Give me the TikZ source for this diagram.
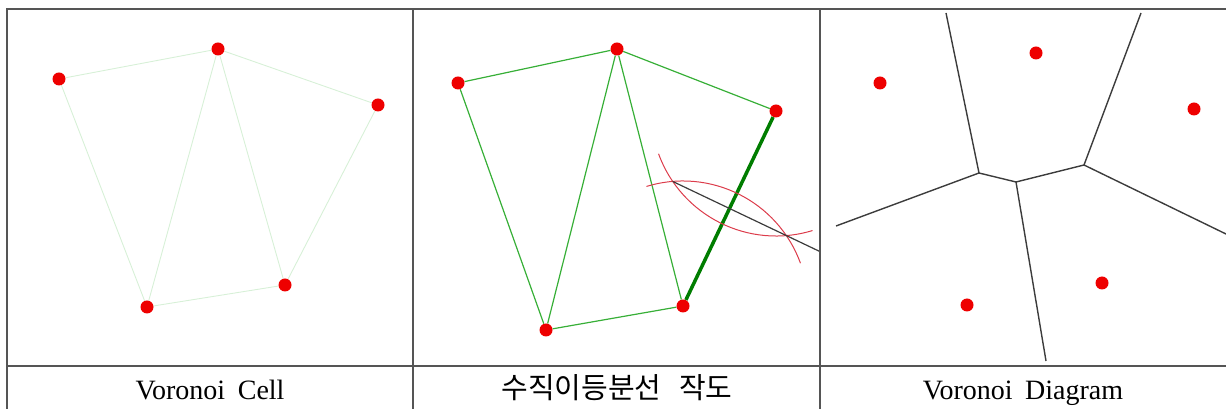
\documentclass[tikz,border=0pt]{standalone}
\usepackage{fontspec}
\setmainfont{Liberation Serif}
\newfontfamily\kofont{Noto Sans CJK KR}
\usepackage{tikz}
\usetikzlibrary{calc,backgrounds}
\definecolor{framegrey}{RGB}{85,85,85}
\definecolor{dotred}{RGB}{238,0,0}
\definecolor{palegreen}{RGB}{215,240,215}
\definecolor{edgegreen}{RGB}{55,175,55}
\definecolor{deepgreen}{RGB}{0,125,0}
\definecolor{arcred}{RGB}{220,60,75}
\definecolor{cellgrey}{RGB}{60,60,60}
\tikzset{
  frame/.style={line width=1.2pt, draw=framegrey},
  site/.style={circle, fill=dotred, inner sep=0pt, minimum size=13pt},
  faint/.style={line width=0.9pt, draw=palegreen},
  tri/.style={line width=1.2pt, draw=edgegreen},
  chord/.style={line width=3.5pt, draw=deepgreen},
  compass/.style={line width=1pt, draw=arcred},
  bisect/.style={line width=1.2pt, draw=cellgrey},
  cell/.style={line width=1.4pt, draw=cellgrey},
  caption/.style={anchor=base, inner sep=0pt, font=\fontsize{28}{30}\selectfont},
}

\begin{document}
\begin{tikzpicture}[x=1pt,y=1pt]
  \useasboundingbox (0,0) rectangle (1226,409);
  % table
  \draw[frame] (7,0) -- (7,400) -- (1226,400);
  \draw[frame] (7,43) -- (1226,43);
  \draw[frame] (413,0) -- (413,400);
  \draw[frame] (820,0) -- (820,400);
  % Voronoi Cell
  \node[site] (a1) at (59,330) {};
  \node[site] (a2) at (218,360) {};
  \node[site] (a3) at (378,304) {};
  \node[site] (a4) at (285,124) {};
  \node[site] (a5) at (147,102) {};
  \begin{pgfonlayer}{background}
    \draw[faint] (a1) -- (a2) -- (a3) -- (a4) -- (a5) -- (a1);
    \draw[faint] (a2) -- (a5);
    \draw[faint] (a2) -- (a4);
  \end{pgfonlayer}
  % bisector construction
  \node[site] (b1) at (458,326) {};
  \node[site] (b2) at (617,360) {};
  \node[site] (b3) at (776,298) {};
  \node[site] (b4) at (683,103) {};
  \node[site] (b5) at (546,79) {};
  \coordinate (p1) at (672.6,227.6);
  \coordinate (pend) at (820,157.4);
  \begin{pgfonlayer}{background}
    \draw[tri] (b1) -- (b2) -- (b3);
    \draw[tri] (b1) -- (b5) -- (b4) -- (b2) -- (b5);
    \draw[chord] (b3) -- (b4);
    \draw[compass] ($(b4)+(107:125pt)$) arc[start angle=107, end angle=20, radius=125pt];
    \draw[compass] ($(b3)+(200:125pt)$) arc[start angle=200, end angle=287, radius=125pt];
    \draw[bisect] (p1) -- (pend);
  \end{pgfonlayer}
  % Voronoi Diagram
  \node[site] (c1) at (880,326) {};
  \node[site] (c2) at (1036,356) {};
  \node[site] (c3) at (1194,300) {};
  \node[site] (c4) at (1102,126) {};
  \node[site] (c5) at (967,104) {};
  \coordinate (v1) at (979,236);
  \coordinate (v2) at (1016,227);
  \coordinate (v3) at (1084,244);
  \coordinate (vtop1) at (946,396);
  \coordinate (vtop2) at (1141,396);
  \coordinate (vleft) at (836,183);
  \coordinate (vright) at (1226,175);
  \coordinate (vbot) at (1046,48);
  \draw[cell] (vtop1) -- (v1) -- (v2) -- (v3) -- (vtop2);
  \draw[cell] (vleft) -- (v1);
  \draw[cell] (v2) -- (vbot);
  \draw[cell] (v3) -- (vright);
  % captions
  \node[caption] (cap1) at (210,9) {Voronoi\hspace{0.45em}Cell};
  \node[caption] (cap2) at (617,10) {\kofont\fontsize{29}{30}\selectfont 수직이등분선\hspace{0.6em}작도};
  \node[caption] (cap3) at (1023,9) {Voronoi\hspace{0.45em}Diagram};
\end{tikzpicture}
\end{document}
